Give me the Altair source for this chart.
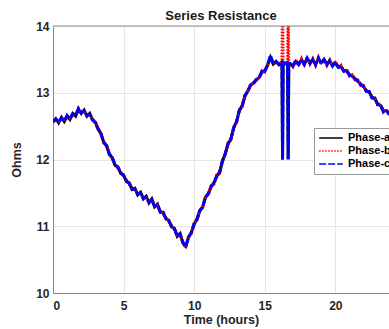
import altair as alt
import pandas as pd

# time grid (hours) for the regular samples, every 0.2 h from 0 to 24
hours = [round(i * 0.2, 2) for i in range(121)]

phase_a = [
    12.56, 12.61, 12.55, 12.63, 12.57, 12.65, 12.60, 12.69, 12.65, 12.75,
    12.69, 12.74, 12.65, 12.69, 12.59, 12.56, 12.45, 12.39, 12.25, 12.21,
    12.07, 12.03, 11.91, 11.89, 11.79, 11.77, 11.67, 11.65, 11.55, 11.57,
    11.47, 11.51, 11.41, 11.45, 11.35, 11.41, 11.29, 11.33, 11.21, 11.21,
    11.11, 11.09, 10.99, 10.97, 10.85, 10.89, 10.75, 10.70, 10.83, 10.91,
    11.03, 11.11, 11.23, 11.29, 11.43, 11.49, 11.59, 11.65, 11.75, 11.81,
    11.97, 12.09, 12.23, 12.31, 12.47, 12.57, 12.73, 12.81, 12.95, 13.03,
    13.11, 13.15, 13.19, 13.23, 13.31, 13.33, 13.41, 13.53, 13.43, 13.47,
    13.42, 13.46, 13.43, 13.46, 13.43, 13.41, 13.47, 13.43, 13.49, 13.43,
    13.51, 13.45, 13.49, 13.43, 13.51, 13.45, 13.49, 13.43, 13.47, 13.41,
    13.45, 13.39, 13.39, 13.33, 13.33, 13.27, 13.25, 13.21, 13.17, 13.13,
    13.09, 13.03, 13.01, 12.93, 12.91, 12.83, 12.81, 12.73, 12.73, 12.69,
    12.67,
]
phase_b = [
    12.58, 12.59, 12.57, 12.61, 12.60, 12.63, 12.62, 12.67, 12.67, 12.77,
    12.71, 12.72, 12.67, 12.67, 12.61, 12.54, 12.47, 12.37, 12.27, 12.19,
    12.09, 12.01, 11.93, 11.87, 11.81, 11.75, 11.69, 11.63, 11.57, 11.55,
    11.49, 11.49, 11.43, 11.43, 11.37, 11.39, 11.31, 11.31, 11.23, 11.19,
    11.13, 11.07, 11.01, 10.95, 10.87, 10.87, 10.77, 10.68, 10.85, 10.89,
    11.05, 11.09, 11.25, 11.27, 11.45, 11.47, 11.61, 11.63, 11.77, 11.79,
    11.99, 12.07, 12.25, 12.29, 12.49, 12.55, 12.75, 12.79, 12.97, 13.01,
    13.13, 13.13, 13.21, 13.21, 13.33, 13.31, 13.43, 13.51, 13.45, 13.45,
    13.44, 13.44, 13.45, 13.44, 13.45, 13.39, 13.49, 13.41, 13.51, 13.41,
    13.53, 13.43, 13.51, 13.41, 13.53, 13.43, 13.51, 13.41, 13.49, 13.39,
    13.47, 13.37, 13.41, 13.31, 13.35, 13.25, 13.27, 13.19, 13.19, 13.11,
    13.11, 13.01, 13.03, 12.91, 12.93, 12.81, 12.83, 12.71, 12.75, 12.67,
    12.69,
]
phase_c = [
    12.57, 12.60, 12.56, 12.62, 12.58, 12.66, 12.61, 12.68, 12.66, 12.76,
    12.70, 12.73, 12.66, 12.68, 12.60, 12.55, 12.46, 12.38, 12.26, 12.20,
    12.08, 12.02, 11.92, 11.88, 11.80, 11.76, 11.68, 11.64, 11.56, 11.56,
    11.48, 11.50, 11.42, 11.44, 11.36, 11.40, 11.30, 11.32, 11.22, 11.20,
    11.12, 11.08, 11.00, 10.96, 10.86, 10.88, 10.76, 10.69, 10.84, 10.90,
    11.04, 11.10, 11.24, 11.28, 11.44, 11.48, 11.60, 11.64, 11.76, 11.80,
    11.98, 12.08, 12.24, 12.30, 12.48, 12.56, 12.74, 12.80, 12.96, 13.02,
    13.12, 13.14, 13.20, 13.22, 13.32, 13.32, 13.42, 13.56, 13.44, 13.46,
    13.43, 13.45, 13.44, 13.45, 13.44, 13.40, 13.48, 13.42, 13.50, 13.42,
    13.52, 13.44, 13.50, 13.42, 13.52, 13.44, 13.50, 13.42, 13.48, 13.40,
    13.46, 13.38, 13.40, 13.32, 13.34, 13.26, 13.26, 13.20, 13.18, 13.12,
    13.10, 13.02, 13.02, 12.92, 12.92, 12.82, 12.82, 12.72, 12.74, 12.68,
    12.68,
]

# transient spikes near 16.3 h and 16.7 h
spike_hours = [16.22, 16.26, 16.30, 16.62, 16.66, 16.70]
spike_a = [13.44, 12.00, 13.45, 13.46, 12.00, 13.44]
spike_b = [13.44, 14.60, 13.45, 13.46, 14.60, 13.44]
spike_c = [13.44, 12.00, 13.45, 13.46, 12.00, 13.44]

phases = ["Phase-a", "Phase-b", "Phase-c"]
series = {
    "Phase-a": (phase_a, spike_a),
    "Phase-b": (phase_b, spike_b),
    "Phase-c": (phase_c, spike_c),
}

rows = []
for name in phases:
    base, sp = series[name]
    for t, v in zip(hours, base):
        rows.append({"Time": t, "Ohms": v, "Phase": name})
    for t, v in zip(spike_hours, sp):
        rows.append({"Time": t, "Ohms": v, "Phase": name})
df = pd.DataFrame(rows).sort_values(["Phase", "Time"]).reset_index(drop=True)

FONT = "Liberation Sans"

lines = alt.Chart(df).mark_line(strokeWidth=3, clip=True).encode(
    x=alt.X("Time:Q", scale=alt.Scale(domain=[0, 23.8], nice=False, zero=False),
            axis=alt.Axis(values=[0, 5, 10, 15, 20], title="Time (hours)", format="d")),
    y=alt.Y("Ohms:Q", scale=alt.Scale(domain=[10, 14], nice=False, zero=False),
            axis=alt.Axis(values=[10, 10.5, 11, 11.5, 12, 12.5, 13, 13.5, 14], title="Ohms",
                          format="~g")),
    color=alt.Color("Phase:N",
                    scale=alt.Scale(domain=phases, range=["#000000", "#ff0000", "#0000ff"]),
                    legend=alt.Legend(title=None, orient="none", legendX=261, legendY=102,
                                      symbolType="stroke", symbolSize=560, symbolStrokeWidth=1.6,
                                      clipHeight=12,
                                      labelFont=FONT, labelFontWeight="bold", labelFontSize=11,
                                      labelColor="#000000", labelOffset=4,
                                      fillColor="white", strokeColor="#999999",
                                      padding=4, rowPadding=1)),
    strokeDash=alt.StrokeDash("Phase:N",
                              scale=alt.Scale(domain=phases, range=[[1, 0], [1.5, 1.5], [7, 2]]),
                              legend=None),
    order=alt.Order("Time:Q"),
)

top_rule = alt.Chart(pd.DataFrame({"v": [14]})).mark_rule(color="#888888", strokeWidth=1).encode(
    y=alt.Y("v:Q"),
)

chart = alt.layer(lines, top_rule).properties(
    width=336,
    height=267,
    autosize=alt.AutoSizeParams(type="none"),
    padding={"left": 53, "top": 26, "right": 0, "bottom": 36},
    title=alt.TitleParams("Series Resistance", font=FONT, fontSize=13, fontWeight="bold",
                          color="#1a1a1a", anchor="middle", offset=-3),
).configure_view(stroke=None).configure_axis(
    labelFont=FONT, labelFontSize=12, labelFontWeight="bold", labelColor="#262626",
    titleFont=FONT, titleFontSize=12.5, titleFontWeight="bold", titleColor="#262626",
    gridColor="#e6e6e6", gridWidth=1, domainColor="#888888", ticks=False,
).configure_axisX(labelPadding=7, titlePadding=2).configure_axisY(labelPadding=4, titlePadding=12)

chart.save("out.html", embed_options={"renderer": "svg", "actions": False})
